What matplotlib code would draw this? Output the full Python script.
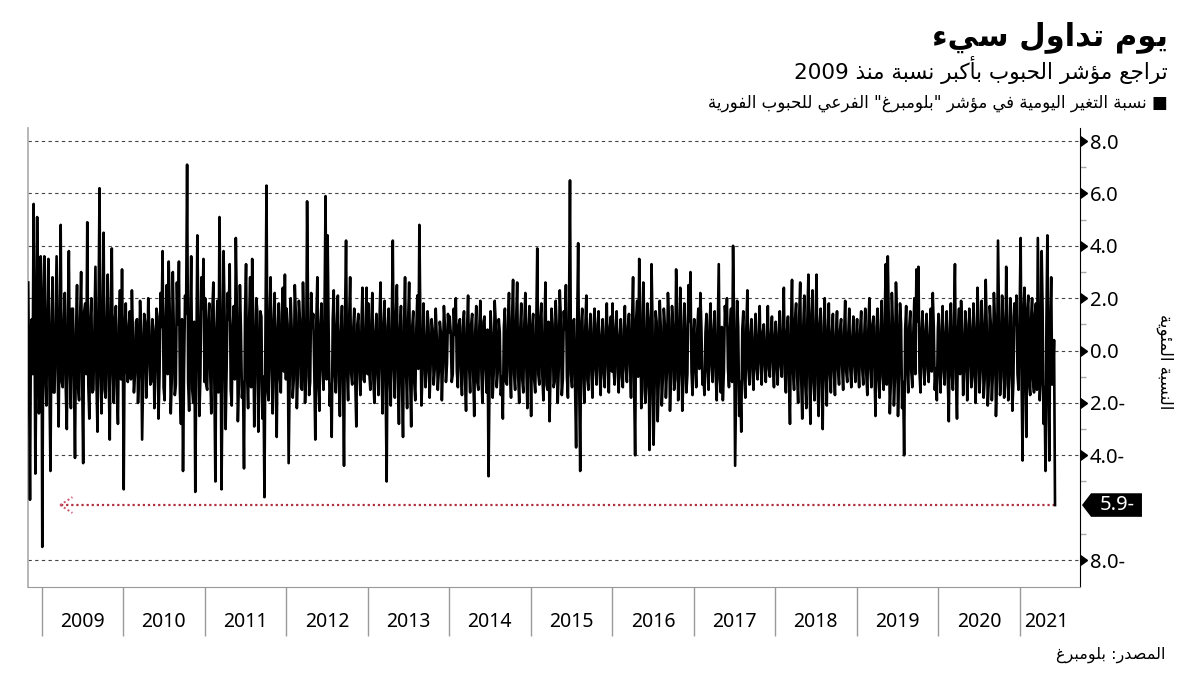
import re
import numpy as np
import pandas as pd
import matplotlib
matplotlib.use('Agg')
import matplotlib.pyplot as plt
from matplotlib.patches import Polygon

# daily % change, Bloomberg grains spot subindex (thinned)
# spike_* : the visible peaks/troughs, core_* : the dense band around zero
spike_2008 = [2.6, -5.7, 1.2, 5.6, -4.7, 5.1, -2.4, 3.6]
core_2008 = [-1.2, 0.8, -0.9, 1.4, -1.1, 0.7, -1.5, 1.0]
spike_2009 = [-7.5, 3.6, -2.1, 3.5, -4.6, 2.8, -1.6, 3.6, -2.9, 4.8,
              -1.4, 2.2, -3.0, 3.8, -2.2, 1.6, -4.1, 2.5, -1.9, 3.0,
              -4.3, 1.8, 4.9, -2.6, 2.0, -1.5, 3.2, -3.1, 6.2, -2.4,
              4.5, -1.8, 2.9, -3.4, 3.9, -2.0, 1.7, -2.8, 2.3, 3.1]
core_2009 = [1.2, -0.9, 1.5, -1.3, 0.8, -1.6, 1.1, -0.7, 1.4, -1.2,
             0.9, -1.5, 1.3, -0.8, 1.6, -1.1, 0.7, -1.4, 1.2, -1.0,
             1.5, -0.9, -1.3, 1.1, -1.6, 0.8, -1.2, 1.4, -0.9, 1.3,
             -1.5, 1.0, -1.1, 1.6, -0.8, 1.2, -1.4, 0.9, -1.1, -1.3]
spike_2010 = [-5.3, 1.8, -1.2, 1.5, 2.3, -1.6, 1.1, -2.0, 1.9, -3.4,
              1.4, -1.8, 2.0, -1.3, 1.2, -2.2, 1.6, -2.6, 2.2, 3.8,
              -1.9, 2.5, 3.4, -2.4, 3.0, -1.7, 2.6, 3.4, -2.8, -4.6,
              2.1, 7.1, -2.3, 3.6, -2.0, -5.4, 4.4, -2.5, 2.8, 3.5]
core_2010 = [0.9, -0.7, 1.0, -1.1, 0.6, -0.9, 1.2, -0.8, 0.7, -1.0,
             1.1, -0.6, 0.9, -1.2, 0.8, -0.7, 1.3, -1.0, 0.9, -1.4,
             1.2, -0.9, 1.5, -1.1, 0.8, -1.3, 1.0, -1.6, 1.2, -0.8,
             1.4, -1.2, 0.9, -1.5, 1.1, -0.7, 1.3, -1.0, 1.6, -1.2]
spike_2011 = [2.0, -1.5, 1.8, -2.4, 2.6, -5.0, 1.9, 5.1, -5.3, 3.8,
              -3.0, 2.2, 3.3, -2.1, 1.7, 4.3, -2.7, 2.5, -1.8, -4.5,
              3.3, -2.2, 2.8, 3.5, -2.9, 2.0, -3.1, 1.5, -2.6, -5.6,
              6.3, -1.9, 2.8, -2.4, 2.2, -3.3, 1.8, -1.6, 2.4, 2.9]
core_2011 = [-1.3, 1.1, -0.9, 1.5, -1.2, 0.8, -1.6, 1.3, -1.0, 1.4,
             -0.7, 1.2, -1.5, 0.9, -1.1, 1.6, -1.3, 0.8, -1.2, 1.4,
             -0.9, 1.1, -1.4, 1.0, -0.8, 1.5, -1.2, 1.3, -1.0, 0.9,
             -1.5, 1.2, -0.7, 1.1, -1.3, 0.9, -1.0, 1.4, -0.8, -1.1]
spike_2012 = [1.6, -4.3, 2.0, -1.8, 2.5, -2.2, 1.9, -1.4, 2.6, -2.0,
              5.7, -1.7, 2.2, 1.4, -3.4, 2.8, -2.3, 1.8, -1.5, 5.9,
              4.4, -2.1, -3.3, 2.3, -1.6, 2.1, -2.5, 1.7, -4.4, 4.2,
              -1.9, 2.8, -1.3, 1.6, -2.9, 1.4, -1.7, 2.4, -1.2, 2.4]
core_2012 = [1.0, -1.3, 0.8, -1.1, 1.4, -0.9, 1.2, -1.5, 0.7, -1.0,
             1.3, -1.2, 0.9, -0.8, 1.1, -1.4, 1.0, -0.7, 1.5, -1.1,
             0.8, -1.3, 1.2, -0.9, 1.0, -1.2, 0.7, -1.0, 1.3, -0.8,
             1.1, -0.9, 0.8, -1.2, 1.0, -0.7, 0.9, -1.1, 0.8, -0.9]
spike_2013 = [1.8, -1.5, 2.2, -2.0, 1.4, -1.7, 2.6, -2.4, 1.9, -5.0,
              1.6, -2.1, 4.2, -1.8, 2.5, -2.8, 1.7, -3.3, 2.8, -2.2,
              2.6, -2.9, 1.5, -1.9, 2.1, 4.8, -2.1, 1.8, -1.4, 1.5,
              -1.8, 1.2, -1.3, 1.6, -1.5, 1.1, -1.9, 1.7, -1.2, 1.4]
core_2013 = [-0.8, 1.0, -1.1, 0.7, -0.9, 1.2, -0.8, 1.0, -1.3, 0.9,
             -1.0, 1.1, -0.7, 1.3, -0.9, 0.8, -1.2, 1.0, -0.8, 1.1,
             -1.0, 0.9, -1.2, 0.8, -0.7, 1.0, -0.9, 0.6, -0.8, 0.9,
             -0.6, 0.8, -0.7, 0.5, -0.8, 0.7, -0.6, 0.9, -0.5, 0.7]
spike_2014 = [1.3, -1.2, 1.6, 2.0, -1.4, 1.2, -1.7, 1.5, -2.3, 2.1,
              -1.6, 1.4, -2.5, 1.7, -1.5, 1.9, -2.0, 1.3, -1.6, -4.8,
              1.5, -1.8, 1.9, -1.4, 1.2, -1.7, -2.6, 1.6, -1.3, 2.2,
              -1.8, 2.7, -1.5, 2.6, -2.0, 1.8, -1.6, 2.2, -2.2, 1.7]
core_2014 = [0.7, -0.9, 0.6, -0.8, 1.0, -0.7, 0.9, -1.1, 0.8, -0.6,
             1.0, -0.9, 0.7, -1.2, 0.9, -0.8, 1.1, -0.7, 0.8, -1.0,
             0.6, -0.9, 1.1, -0.8, 0.7, -1.0, 0.9, -1.2, 1.0, -0.8,
             1.2, -0.9, 1.1, -1.0, 0.8, -1.1, 1.0, -0.7, 0.9, -0.8]
spike_2015 = [-2.5, 1.4, -1.6, 3.9, -1.3, 1.8, -1.9, 2.6, -1.5, -2.7,
              1.6, -1.4, 1.9, -2.0, 2.3, -1.7, 1.5, 2.5, -1.8, 6.5,
              -1.4, 1.2, -3.7, 4.1, -4.6, 1.6, -2.0, 2.1, -1.5, 1.4,
              -1.8, 1.6, -1.3, 1.5, -1.7, 1.2, -1.4, 1.8, -1.6, 1.3]
core_2015 = [0.9, -1.1, 0.8, -0.9, 1.2, -1.0, 0.7, -1.3, 1.1, -0.8,
             1.0, -1.2, 0.9, -0.7, 1.3, -1.1, 0.8, -1.0, 1.2, -0.9,
             1.1, -1.4, 0.9, -1.2, 1.0, -0.8, 0.9, -1.1, 0.7, -0.9,
             0.8, -0.7, 1.0, -0.8, 0.6, -0.9, 0.8, -0.6, 0.9, -0.8]
spike_2016 = [1.8, -1.3, 1.5, -1.6, 1.2, -1.4, 1.7, -1.2, 1.4, -1.8,
              2.8, -4.0, 1.9, 3.5, -2.2, 2.6, -2.0, 1.8, -3.8, 3.3,
              -3.6, 1.5, -2.7, 1.9, -2.1, 1.6, -1.8, 2.2, -2.3, 1.7,
              -1.5, 3.1, -1.9, 2.4, -2.3, 1.8, -1.6, 2.5, 3.0, -1.7]
core_2016 = [-0.7, 0.9, -0.8, 0.6, -1.0, 0.8, -0.7, 0.9, -0.6, 1.1,
             -1.3, 1.2, -1.0, 1.4, -1.5, 1.1, -1.3, 1.2, -1.6, 1.0,
             -1.4, 1.1, -1.2, 0.9, -1.1, 1.0, -0.8, 1.2, -1.0, 0.9,
             -1.1, 1.3, -0.9, 1.0, -1.2, 0.8, -0.9, 1.1, -0.8, 0.7]
spike_2017 = [1.2, -1.4, 1.6, 2.2, -1.3, -1.7, 1.4, -1.5, 1.8, -1.2,
              1.5, -1.9, 3.3, -1.6, -1.9, 1.7, 2.0, -1.4, 1.6, 4.0,
              -4.4, 1.9, -2.5, -3.1, 1.5, -1.8, 2.3, -1.3, 1.2, -1.5,
              1.4, -1.1, 1.7, -1.3, 1.0, -1.2, 1.7, -1.0, 1.3, -1.4]
core_2017 = [-0.6, 0.8, -0.7, 0.9, -1.0, 0.7, -0.8, 1.0, -0.6, 0.8,
             -0.9, 0.7, -1.1, 0.9, -0.8, 1.0, -0.7, 0.9, -1.2, 1.1,
             -1.4, 0.9, -1.2, 0.8, -1.0, 0.9, -0.7, 0.6, -0.8, 0.5,
             -0.7, 0.6, -0.5, 0.7, -0.6, 0.5, -0.7, 0.6, -0.5, 0.6]
spike_2018 = [1.1, -1.3, 1.5, -1.0, 2.4, -1.6, 1.3, -2.8, 2.7, -1.5,
              1.8, -2.0, 2.6, -2.6, 2.1, -2.2, 2.9, -2.8, 2.3, -1.9,
              2.9, -2.5, 1.6, -3.0, 2.0, -2.1, 1.8, -1.6, 1.4, -1.7,
              1.5, -1.3, 1.2, -1.5, 1.9, -1.2, 1.6, -1.4, 1.3, -1.2]
core_2018 = [-0.5, 0.7, -0.6, 0.8, -0.9, 0.7, -1.1, 1.0, -0.8, 1.2,
             -1.0, 1.3, -1.1, 0.9, -1.3, 1.2, -1.0, 1.4, -1.2, 1.1,
             -1.3, 1.0, -1.2, 0.9, -1.0, 0.8, -0.9, 0.7, -0.8, 0.6,
             -0.7, 0.8, -0.6, 0.7, -0.8, 0.6, -0.7, 0.5, -0.6, 0.7]
spike_2019 = [1.2, -1.4, 1.5, -1.3, 1.6, -1.7, 2.0, -1.4, 1.3, -2.5,
              1.6, -1.8, 1.9, -1.5, 3.3, 3.6, -2.4, 2.2, -2.1, 2.6,
              -2.5, 1.8, -2.2, -4.0, 1.7, -1.6, 1.5, -1.4, 2.0, 3.1,
              3.2, -1.6, 1.5, -1.3, 1.4, -1.2, 1.6, 2.2, -1.5, -1.9]
core_2019 = [-0.6, 0.8, -0.7, 0.6, -0.9, 0.8, -0.7, 1.0, -0.8, 0.9,
             -1.1, 0.8, -1.0, 1.2, -1.3, 1.1, -1.2, 1.0, -1.1, 1.3,
             -0.9, 1.0, -1.2, 0.8, -0.7, 0.9, -0.8, 0.7, -0.9, 1.1,
             -0.8, 0.7, -0.6, 0.8, -0.7, 0.6, -0.8, 0.9, -0.7, 0.8]
spike_2020 = [1.4, -1.6, 1.7, -1.3, 1.5, -2.7, 1.8, -1.5, 3.3, -2.6,
              1.6, 1.9, -1.7, 1.5, -1.9, 1.6, -1.4, 1.8, -2.0, 2.4,
              -1.6, 1.9, -1.8, 2.7, -2.1, 1.7, -1.9, 2.2, -2.5, 4.2,
              -1.7, 2.1, -1.8, 3.2, -1.9, 2.0, -2.3, 1.8, 2.1, -1.5]
core_2020 = [-0.7, 0.9, -0.8, 0.7, -1.0, 0.8, -0.9, 1.1, -1.0, 0.8,
             -0.9, 0.7, -0.8, 1.0, -0.7, 0.9, -1.0, 0.8, -0.9, 1.1,
             -0.8, 1.0, -1.1, 0.9, -1.2, 1.0, -0.9, 1.2, -1.1, 1.3,
             -1.0, 1.2, -1.3, 1.1, -1.0, 1.3, -1.2, 1.0, -0.9, 1.1]
spike_2021 = [4.3, -4.2, 2.4, -3.3, 2.1, -1.7, 2.0, -1.6, 1.8, 4.3,
              -1.9, 3.8, -2.8, -4.6, 4.4, -4.2, 2.8, -1.1, -5.9]
core_2021 = [-1.2, 1.5, -1.0, 1.6, -1.3, 1.2, -1.1, 1.4, -1.5, 1.3,
             -1.2, 1.6, -1.4, 1.1, -1.5, 1.0, -1.3, 0.4]

last_value = -5.9
y_ticks = [8, 6, 4, 2, 0, -2, -4, -8]
y_labels = ['8.0', '6.0', '4.0', '2.0', '0.0', '2.0-', '4.0-', '8.0-']
years = ['2009', '2010', '2011', '2012', '2013', '2014', '2015',
         '2016', '2017', '2018', '2019', '2020', '2021']

title = 'يوم تداول سيء'
subtitle = 'تراجع مؤشر الحبوب بأكبر نسبة منذ 2009'
legend_txt = '■ نسبة التغير اليومية في مؤشر "بلومبرغ" الفرعي للحبوب الفورية'
ylabel_txt = 'النسبة المئوية'
source_txt = 'المصدر: بلومبرغ'


# --- minimal arabic shaping (matplotlib has no text shaping / bidi) ---
_letters = [('ء', 1), ('آ', 2), ('أ', 2), ('ؤ', 2), ('إ', 2), ('ئ', 4), ('ا', 2),
            ('ب', 4), ('ة', 2), ('ت', 4), ('ث', 4), ('ج', 4), ('ح', 4), ('خ', 4),
            ('د', 2), ('ذ', 2), ('ر', 2), ('ز', 2), ('س', 4), ('ش', 4), ('ص', 4),
            ('ض', 4), ('ط', 4), ('ظ', 4), ('ع', 4), ('غ', 4), ('ف', 4), ('ق', 4),
            ('ك', 4), ('ل', 4), ('م', 4), ('ن', 4), ('ه', 4), ('و', 2), ('ى', 2),
            ('ي', 4)]
FORMS = {}
_c = 0xFE80
for ch, n in _letters:
    FORMS[ch] = [_c + i for i in range(n)]
    _c += n
LAM_ALEF = {'آ': 0xFEF5, 'أ': 0xFEF7, 'إ': 0xFEF9, 'ا': 0xFEFB}


def shape(text):
    out = []
    i = 0
    while i < len(text):
        ch = text[i]
        if ch not in FORMS:
            out.append(ch)
            i += 1
            continue
        prev = text[i - 1] if i > 0 else ''
        joins_prev = prev in FORMS and len(FORMS[prev]) == 4
        if ch == 'ل' and i + 1 < len(text) and text[i + 1] in LAM_ALEF:
            out.append(chr(LAM_ALEF[text[i + 1]] + (1 if joins_prev else 0)))
            i += 2
            continue
        nxt = text[i + 1] if i + 1 < len(text) else ''
        joins_next = len(FORMS[ch]) == 4 and nxt in FORMS and nxt != 'ء'
        if joins_prev and joins_next:
            k = 3
        elif joins_prev:
            k = 1 if len(FORMS[ch]) > 1 else 0
        elif joins_next:
            k = 2
        else:
            k = 0
        out.append(chr(FORMS[ch][k]))
        i += 1
    return ''.join(out)


def ar(text):
    rev = shape(text)[::-1]
    return re.sub(r'[0-9]+', lambda m: m.group(0)[::-1], rev)


def merge(spikes, core):
    out = []
    for i, s in enumerate(spikes):
        out.append(s)
        if i < len(core):
            out.append(core[i])
    return out


# --- build the series ---
blocks = [(merge(spike_2008, core_2008), '2008-10-31', '2008-12-30')]
yearly = [(spike_2009, core_2009), (spike_2010, core_2010), (spike_2011, core_2011),
          (spike_2012, core_2012), (spike_2013, core_2013), (spike_2014, core_2014),
          (spike_2015, core_2015), (spike_2016, core_2016), (spike_2017, core_2017),
          (spike_2018, core_2018), (spike_2019, core_2019), (spike_2020, core_2020)]
for y, (sp, co) in zip(range(2009, 2021), yearly):
    blocks.append((merge(sp, co), f'{y}-01-02', f'{y}-12-30'))
blocks.append((merge(spike_2021, core_2021), '2021-01-04', '2021-06-07'))

dates, values = [], []
for vals, start, end in blocks:
    dates.extend(pd.date_range(start, end, periods=len(vals)))
    values.extend(vals)

ar_font = 'DejaVu Sans'
num_font = 'Noto Sans'

fig = plt.figure(figsize=(12, 6.75), dpi=100)
ax = fig.add_axes([28 / 1200, 88 / 675, 1052 / 1200, 459 / 675])

for g in y_ticks:
    ax.axhline(g, color='#444444', lw=0.8, ls=(0, (3, 3)), zorder=0)

ax.plot(dates, values, color='black', lw=1.9, zorder=3)

# red dotted reference line with open arrow head
tip = pd.Timestamp('2009-03-23')
ax.plot([tip + pd.Timedelta(days=4), dates[-1]], [last_value, last_value],
        color='#b03040', lw=1.6, ls=(0, (1, 1.3)), zorder=2)
arm = tip + pd.Timedelta(days=55)
for dy in (0.3, -0.3):
    ax.plot([tip, arm], [last_value, last_value + dy], color='#d05068',
            lw=1.4, ls=(0, (1, 1.3)), zorder=2)

ax.set_xlim(pd.Timestamp('2008-10-30'), pd.Timestamp('2021-09-27'))
ax.set_ylim(-9.03, 8.5)

# x axis: year separators + labels in between
ax.set_xticks([pd.Timestamp(f'{y}-01-01') for y in years])
ax.set_xticklabels([])
label_pos = [pd.Timestamp(f'{y}-07-01') for y in years[:-1]] + [pd.Timestamp('2021-05-01')]
ax.set_xticks(label_pos, minor=True)
ax.set_xticklabels(years, minor=True, fontsize=14, family=num_font)
ax.tick_params(axis='x', which='major', length=35, width=1, color='#9a9a9a')
ax.tick_params(axis='x', which='minor', length=0, pad=18)

# y axis on the right
ax.yaxis.tick_right()
ax.set_yticks(y_ticks)
ax.set_yticklabels(y_labels, fontsize=14.5, family=num_font)
ax.set_yticks([7, 5, 3, 1, -1, -3, -5, -7], minor=True)
ax.tick_params(axis='y', which='major', length=0, pad=7)
ax.tick_params(axis='y', which='minor', length=4, width=1, color='#aaaaaa')
ax.plot(np.ones(len(y_ticks)), y_ticks, ls='none', marker=9, ms=7, color='black',
        transform=ax.get_yaxis_transform(), clip_on=False, zorder=5)

ax.spines['top'].set_visible(False)
ax.spines['left'].set_color('#aaaaaa')
ax.spines['left'].set_linewidth(1.2)
ax.spines['bottom'].set_color('#999999')
ax.spines['right'].set_color('black')

# value tag -5.9
tr = ax.get_yaxis_transform()
tag = Polygon([(1.0019, last_value), (1.0105, last_value + 0.45), (1.0589, last_value + 0.45),
               (1.0589, last_value - 0.45), (1.0105, last_value - 0.45)],
              closed=True, facecolor='black', edgecolor='none', transform=tr, clip_on=False)
ax.add_patch(tag)
ax.text(1.035, last_value, '5.9-', transform=tr, color='white', fontsize=14.5,
        family=num_font, ha='center', va='center', clip_on=False)

# texts
fig.text(1168 / 1200, 1 - 37 / 675, ar(title), ha='right', va='center',
         fontsize=22, fontweight='bold', family=ar_font)
fig.text(1168 / 1200, 1 - 70 / 675, ar(subtitle), ha='right', va='center',
         fontsize=15.5, family=ar_font)
fig.text(1168 / 1200, 1 - 103 / 675, ar(legend_txt), ha='right', va='center',
         fontsize=12, family=ar_font)
fig.text(1165 / 1200, 1 - 362 / 675, ar(ylabel_txt), ha='center', va='center',
         rotation=270, fontsize=12, family=ar_font)
fig.text(1165 / 1200, 1 - 655 / 675, ar(source_txt), ha='right', va='center',
         fontsize=11.5, family=ar_font)

fig.savefig('out.png', dpi=100)
